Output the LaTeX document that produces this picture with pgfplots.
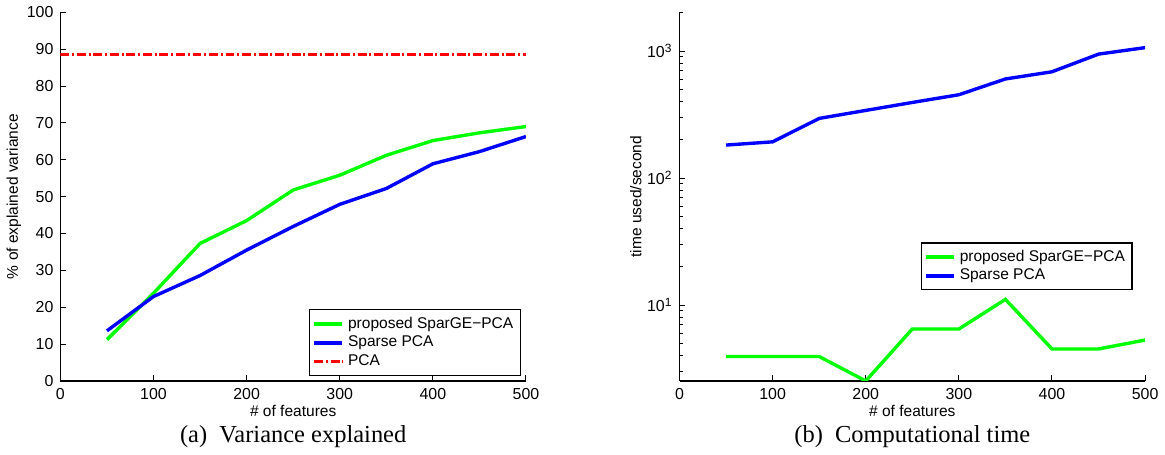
\documentclass[border=0pt]{standalone}
\usepackage{pgfplots}
\pgfplotsset{compat=1.18}
\usepackage{fontspec}
\setmainfont{Liberation Sans}
\newfontfamily\capfont{Liberation Serif}

\pgfplotsset{
  matlab/.style={
    scale only axis,
    width=234pt, height=185.3pt,
    axis lines=left,
    axis line style={-, line width=0.6pt},
    tick align=inside,
    major tick length=3pt,
    minor tick length=1.8pt,
    every tick/.style={black, line width=0.5pt},
    xmin=0, xmax=500,
    xtick={0,100,...,500},
    /pgf/number format/assume math mode=true,
    tick label style={font=\fontsize{8}{9}\selectfont},
    label style={font=\fontsize{7.8}{9}\selectfont},
    xlabel={\# of features},
    xlabel style={yshift=4pt},
    legend style={font=\fontsize{7.8}{9}\selectfont, draw=black, line width=0.6pt,
      inner sep=1.5pt, row sep=-1.5pt, legend cell align=left},
    legend image code/.code={\draw[#1] (0cm,0cm) -- (0.5cm,0cm);},
  }
}

\begin{document}
\begin{tikzpicture}
% (a) variance explained
\begin{axis}[matlab, at={(0pt,0pt)}, name=a,
    ymin=0, ymax=100, ytick={0,10,...,100},
    ylabel={\% of explained variance},
    ylabel style={yshift=-4pt},
    legend style={at={(0.989,0.013)}, anchor=south east}]
\addplot[color=green, line width=1.7pt] coordinates {
  (50,11.2) (100,23.8) (150,37.3) (200,43.5) (250,51.8)
  (300,55.8) (350,61.2) (400,65.2) (450,67.3) (500,69.0)};
\addlegendentry{proposed SparGE−PCA}
\addplot[color=blue, line width=1.7pt] coordinates {
  (50,13.6) (100,22.9) (150,28.6) (200,35.5) (250,41.9)
  (300,47.9) (350,52.2) (400,58.9) (450,62.2) (500,66.3)};
\addlegendentry{Sparse PCA}
\addplot[color=red, line width=1.7pt, dash pattern=on 4.5pt off 1.4pt on 1pt off 1.4pt] coordinates {
  (0,88.5) (500,88.5)};
\addlegendentry{PCA}
\end{axis}
\node[font=\capfont\fontsize{12.3}{14}\selectfont] at ([yshift=-28pt]a.south) {(a)\ \ Variance explained};

% (b) computational time
\begin{axis}[matlab, at={(311.15pt,0pt)}, name=b,
    ymode=log, ymin=2.53, ymax=2020,
    ytick={10,100,1000},
    yticklabels={10\textsuperscript{1},10\textsuperscript{2},10\textsuperscript{3}},
    minor ytick={3,4,5,6,7,8,9,20,30,40,50,60,70,80,90,200,300,400,500,600,700,800,900,2000},
    ylabel={time used/second},
    ylabel style={yshift=-4pt},
    legend style={at={(0.973,0.376)}, anchor=north east}]
\addplot[color=green, line width=1.7pt] coordinates {
  (50,3.94) (100,3.94) (150,3.94) (200,2.53) (250,6.49)
  (300,6.49) (350,11.1) (400,4.52) (450,4.52) (500,5.31)};
\addlegendentry{proposed SparGE−PCA}
\addplot[color=blue, line width=1.7pt] coordinates {
  (50,182) (100,193) (150,295) (200,341) (250,394)
  (300,453) (350,603) (400,687) (450,946) (500,1064)};
\addlegendentry{Sparse PCA}
\end{axis}
\node[font=\capfont\fontsize{12.3}{14}\selectfont] at ([yshift=-28pt]b.south) {(b)\ \ Computational time};
\end{tikzpicture}
\end{document}
